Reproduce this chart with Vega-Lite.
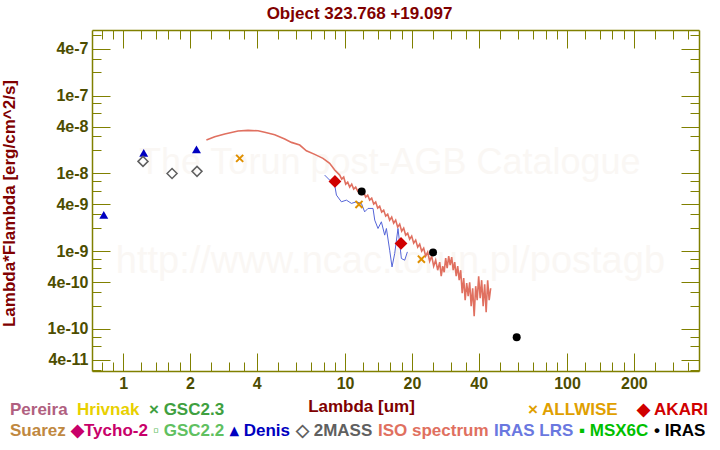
{
  "$schema": "https://vega.github.io/schema/vega-lite/v6.json",
  "width": 607,
  "height": 341,
  "autosize": {"type": "none"},
  "padding": {"left": 92, "top": 30, "right": 21, "bottom": 79},
  "background": "white",
  "title": {"text": "Object 323.768 +19.097", "anchor": "middle", "dx": -36, "offset": 4, "font": "Liberation Sans", "fontSize": 17, "fontWeight": "bold", "color": "#800000"},
  "config": {
    "font": "Liberation Sans",
    "view": {"stroke": null},
    "axis": {"domainColor": "#808000", "domainWidth": 1.5, "tickColor": "#808000", "tickWidth": 1, "labelColor": "#4d4d00", "labelFont": "Liberation Sans", "labelFontSize": 16, "labelFontWeight": "bold", "grid": false, "titleColor": "#800000", "titleFont": "Liberation Sans", "titleFontSize": 17, "titleFontWeight": "bold", "labelOverlap": false, "labelFlush": false},
    "legend": {"orient": "none", "direction": "horizontal", "title": null, "padding": 0, "symbolSize": 0, "symbolStrokeWidth": 0, "symbolOpacity": 0, "symbolType": "circle", "labelOffset": -17, "labelFont": "Liberation Sans", "labelFontSize": 17, "labelFontWeight": "bold", "labelLimit": 400, "gridAlign": "each"}
  },
  "resolve": {"axis": {"x": "independent", "y": "independent"}},
  "data": {"values": [
    {"catalog": "ISO spectrum", "wavelength": 2.372, "flux": 2.69e-8},
    {"catalog": "ISO spectrum", "wavelength": 2.586, "flux": 2.965e-8},
    {"catalog": "ISO spectrum", "wavelength": 2.87, "flux": 3.21e-8},
    {"catalog": "ISO spectrum", "wavelength": 3.293, "flux": 3.51e-8},
    {"catalog": "ISO spectrum", "wavelength": 3.653, "flux": 3.585e-8},
    {"catalog": "ISO spectrum", "wavelength": 4.052, "flux": 3.54e-8},
    {"catalog": "ISO spectrum", "wavelength": 4.343, "flux": 3.38e-8},
    {"catalog": "ISO spectrum", "wavelength": 4.818, "flux": 3.145e-8},
    {"catalog": "ISO spectrum", "wavelength": 5.345, "flux": 2.77e-8},
    {"catalog": "ISO spectrum", "wavelength": 5.731, "flux": 2.51e-8},
    {"catalog": "ISO spectrum", "wavelength": 6.246, "flux": 2.32e-8},
    {"catalog": "ISO spectrum", "wavelength": 6.693, "flux": 1.96e-8},
    {"catalog": "ISO spectrum", "wavelength": 7.298, "flux": 1.76e-8},
    {"catalog": "ISO spectrum", "wavelength": 7.95, "flux": 1.563e-8},
    {"catalog": "ISO spectrum", "wavelength": 8.52, "flux": 1.348e-8},
    {"catalog": "ISO spectrum", "wavelength": 8.98, "flux": 1.105e-8},
    {"catalog": "ISO spectrum", "wavelength": 9.456, "flux": 9.528e-9},
    {"catalog": "ISO spectrum", "wavelength": 9.654, "flux": 8.462e-9},
    {"catalog": "ISO spectrum", "wavelength": 9.856, "flux": 8.978e-9},
    {"catalog": "ISO spectrum", "wavelength": 10.062, "flux": 7.295e-9},
    {"catalog": "ISO spectrum", "wavelength": 10.273, "flux": 7.743e-9},
    {"catalog": "ISO spectrum", "wavelength": 10.489, "flux": 6.675e-9},
    {"catalog": "ISO spectrum", "wavelength": 10.709, "flux": 7.295e-9},
    {"catalog": "ISO spectrum", "wavelength": 10.933, "flux": 6.291e-9},
    {"catalog": "ISO spectrum", "wavelength": 11.162, "flux": 6.675e-9},
    {"catalog": "ISO spectrum", "wavelength": 11.396, "flux": 5.929e-9},
    {"catalog": "ISO spectrum", "wavelength": 11.635, "flux": 6.291e-9},
    {"catalog": "ISO spectrum", "wavelength": 11.878, "flux": 5.425e-9},
    {"catalog": "ISO spectrum", "wavelength": 12.127, "flux": 5.756e-9},
    {"catalog": "ISO spectrum", "wavelength": 12.381, "flux": 4.963e-9},
    {"catalog": "ISO spectrum", "wavelength": 12.641, "flux": 5.267e-9},
    {"catalog": "ISO spectrum", "wavelength": 12.905, "flux": 4.541e-9},
    {"catalog": "ISO spectrum", "wavelength": 13.176, "flux": 4.819e-9},
    {"catalog": "ISO spectrum", "wavelength": 13.452, "flux": 4.033e-9},
    {"catalog": "ISO spectrum", "wavelength": 13.734, "flux": 4.281e-9},
    {"catalog": "ISO spectrum", "wavelength": 14.022, "flux": 3.582e-9},
    {"catalog": "ISO spectrum", "wavelength": 14.316, "flux": 3.801e-9},
    {"catalog": "ISO spectrum", "wavelength": 14.616, "flux": 3.182e-9},
    {"catalog": "ISO spectrum", "wavelength": 14.922, "flux": 3.377e-9},
    {"catalog": "ISO spectrum", "wavelength": 15.235, "flux": 2.826e-9},
    {"catalog": "ISO spectrum", "wavelength": 15.555, "flux": 2.998e-9},
    {"catalog": "ISO spectrum", "wavelength": 15.88, "flux": 2.51e-9},
    {"catalog": "ISO spectrum", "wavelength": 16.213, "flux": 2.743e-9},
    {"catalog": "ISO spectrum", "wavelength": 16.553, "flux": 2.296e-9},
    {"catalog": "ISO spectrum", "wavelength": 16.9, "flux": 2.51e-9},
    {"catalog": "ISO spectrum", "wavelength": 17.254, "flux": 2.04e-9},
    {"catalog": "ISO spectrum", "wavelength": 17.616, "flux": 2.229e-9},
    {"catalog": "ISO spectrum", "wavelength": 17.985, "flux": 1.811e-9},
    {"catalog": "ISO spectrum", "wavelength": 18.362, "flux": 1.98e-9},
    {"catalog": "ISO spectrum", "wavelength": 18.747, "flux": 1.609e-9},
    {"catalog": "ISO spectrum", "wavelength": 19.14, "flux": 1.707e-9},
    {"catalog": "ISO spectrum", "wavelength": 19.541, "flux": 1.429e-9},
    {"catalog": "ISO spectrum", "wavelength": 19.953, "flux": 1.562e-9},
    {"catalog": "ISO spectrum", "wavelength": 20.371, "flux": 1.269e-9},
    {"catalog": "ISO spectrum", "wavelength": 20.798, "flux": 1.388e-9},
    {"catalog": "ISO spectrum", "wavelength": 21.234, "flux": 1.127e-9},
    {"catalog": "ISO spectrum", "wavelength": 21.679, "flux": 1.232e-9},
    {"catalog": "ISO spectrum", "wavelength": 22.133, "flux": 1.001e-9},
    {"catalog": "ISO spectrum", "wavelength": 22.596, "flux": 1.094e-9},
    {"catalog": "ISO spectrum", "wavelength": 23.07, "flux": 8.63e-10},
    {"catalog": "ISO spectrum", "wavelength": 23.554, "flux": 9.72e-10},
    {"catalog": "ISO spectrum", "wavelength": 24.047, "flux": 7.44e-10},
    {"catalog": "ISO spectrum", "wavelength": 24.551, "flux": 8.63e-10},
    {"catalog": "ISO spectrum", "wavelength": 25.066, "flux": 6.42e-10},
    {"catalog": "ISO spectrum", "wavelength": 25.591, "flux": 7.66e-10},
    {"catalog": "ISO spectrum", "wavelength": 26.127, "flux": 5.7e-10},
    {"catalog": "ISO spectrum", "wavelength": 26.68, "flux": 7.23e-10},
    {"catalog": "ISO spectrum", "wavelength": 27.1, "flux": 4.77e-10},
    {"catalog": "ISO spectrum", "wavelength": 27.52, "flux": 6.42e-10},
    {"catalog": "ISO spectrum", "wavelength": 27.95, "flux": 5.37e-10},
    {"catalog": "ISO spectrum", "wavelength": 28.39, "flux": 8.14e-10},
    {"catalog": "ISO spectrum", "wavelength": 28.83, "flux": 6.05e-10},
    {"catalog": "ISO spectrum", "wavelength": 29.29, "flux": 8.63e-10},
    {"catalog": "ISO spectrum", "wavelength": 29.74, "flux": 6.61e-10},
    {"catalog": "ISO spectrum", "wavelength": 30.21, "flux": 8.38e-10},
    {"catalog": "ISO spectrum", "wavelength": 30.69, "flux": 5.7e-10},
    {"catalog": "ISO spectrum", "wavelength": 31.17, "flux": 7.23e-10},
    {"catalog": "ISO spectrum", "wavelength": 31.66, "flux": 4.77e-10},
    {"catalog": "ISO spectrum", "wavelength": 32.16, "flux": 6.42e-10},
    {"catalog": "ISO spectrum", "wavelength": 32.66, "flux": 4.24e-10},
    {"catalog": "ISO spectrum", "wavelength": 33.17, "flux": 5.7e-10},
    {"catalog": "ISO spectrum", "wavelength": 33.69, "flux": 2.88e-10},
    {"catalog": "ISO spectrum", "wavelength": 34.22, "flux": 4.5e-10},
    {"catalog": "ISO spectrum", "wavelength": 34.75, "flux": 2.34e-10},
    {"catalog": "ISO spectrum", "wavelength": 35.3, "flux": 3.88e-10},
    {"catalog": "ISO spectrum", "wavelength": 35.85, "flux": 2.64e-10},
    {"catalog": "ISO spectrum", "wavelength": 36.41, "flux": 3.99e-10},
    {"catalog": "ISO spectrum", "wavelength": 36.98, "flux": 1.96e-10},
    {"catalog": "ISO spectrum", "wavelength": 37.56, "flux": 3.34e-10},
    {"catalog": "ISO spectrum", "wavelength": 38.15, "flux": 1.46e-10},
    {"catalog": "ISO spectrum", "wavelength": 38.75, "flux": 3.55e-10},
    {"catalog": "ISO spectrum", "wavelength": 39.36, "flux": 2.34e-10},
    {"catalog": "ISO spectrum", "wavelength": 39.97, "flux": 4.77e-10},
    {"catalog": "ISO spectrum", "wavelength": 40.6, "flux": 2.49e-10},
    {"catalog": "ISO spectrum", "wavelength": 41.23, "flux": 4.24e-10},
    {"catalog": "ISO spectrum", "wavelength": 41.88, "flux": 1.96e-10},
    {"catalog": "ISO spectrum", "wavelength": 42.54, "flux": 3.76e-10},
    {"catalog": "ISO spectrum", "wavelength": 43.2, "flux": 1.64e-10},
    {"catalog": "ISO spectrum", "wavelength": 43.88, "flux": 4.24e-10},
    {"catalog": "ISO spectrum", "wavelength": 44.57, "flux": 2.34e-10},
    {"catalog": "ISO spectrum", "wavelength": 45.27, "flux": 3.34e-10},
    {"catalog": "IRAS LRS", "wavelength": 8.09, "flux": 9.53e-9},
    {"catalog": "IRAS LRS", "wavelength": 8.52, "flux": 8.21e-9},
    {"catalog": "IRAS LRS", "wavelength": 8.98, "flux": 7.08e-9},
    {"catalog": "IRAS LRS", "wavelength": 9.14, "flux": 5.27e-9},
    {"catalog": "IRAS LRS", "wavelength": 9.62, "flux": 4.32e-9},
    {"catalog": "IRAS LRS", "wavelength": 10.14, "flux": 4.54e-9},
    {"catalog": "IRAS LRS", "wavelength": 10.68, "flux": 4.12e-9},
    {"catalog": "IRAS LRS", "wavelength": 11.24, "flux": 4.32e-9},
    {"catalog": "IRAS LRS", "wavelength": 11.84, "flux": 4.12e-9},
    {"catalog": "IRAS LRS", "wavelength": 12.25, "flux": 3.21e-9},
    {"catalog": "IRAS LRS", "wavelength": 12.68, "flux": 3.55e-9},
    {"catalog": "IRAS LRS", "wavelength": 13.36, "flux": 3.55e-9},
    {"catalog": "IRAS LRS", "wavelength": 13.6, "flux": 2.51e-9},
    {"catalog": "IRAS LRS", "wavelength": 14.07, "flux": 1.96e-9},
    {"catalog": "IRAS LRS", "wavelength": 14.57, "flux": 2.39e-9},
    {"catalog": "IRAS LRS", "wavelength": 15.08, "flux": 1.61e-9},
    {"catalog": "IRAS LRS", "wavelength": 15.35, "flux": 1.96e-9},
    {"catalog": "IRAS LRS", "wavelength": 15.88, "flux": 1.03e-9},
    {"catalog": "IRAS LRS", "wavelength": 16.27, "flux": 6.28e-10},
    {"catalog": "IRAS LRS", "wavelength": 16.73, "flux": 9.35e-10},
    {"catalog": "IRAS LRS", "wavelength": 17.31, "flux": 1.96e-9},
    {"catalog": "IRAS LRS", "wavelength": 17.93, "flux": 8.06e-10},
    {"catalog": "IRAS LRS", "wavelength": 18.56, "flux": 7.66e-10},
    {"catalog": "IRAS LRS", "wavelength": 19.08, "flux": 9.8e-10},
    {"catalog": "Denis", "wavelength": 0.818, "flux": 2.94e-9},
    {"catalog": "Denis", "wavelength": 1.238, "flux": 1.845e-8},
    {"catalog": "Denis", "wavelength": 2.14, "flux": 2.04e-8},
    {"catalog": "2MASS", "wavelength": 1.229, "flux": 1.43e-8},
    {"catalog": "2MASS", "wavelength": 1.661, "flux": 1.0e-8},
    {"catalog": "2MASS", "wavelength": 2.152, "flux": 1.064e-8},
    {"catalog": "ALLWISE", "wavelength": 3.35, "flux": 1.563e-8},
    {"catalog": "ALLWISE", "wavelength": 11.55, "flux": 4.0e-9},
    {"catalog": "ALLWISE", "wavelength": 22.07, "flux": 7.9e-10},
    {"catalog": "AKARI", "wavelength": 9.0, "flux": 7.9e-9},
    {"catalog": "AKARI", "wavelength": 17.86, "flux": 1.26e-9},
    {"catalog": "IRAS", "wavelength": 11.88, "flux": 5.88e-9},
    {"catalog": "IRAS", "wavelength": 24.9, "flux": 9.63e-10},
    {"catalog": "IRAS", "wavelength": 59.3, "flux": 7.82e-11}
  ]},
  "layer": [
    {
      "data": {"values": [{"text": "The Torun post-AGB Catalogue"}]},
      "mark": {"type": "text", "font": "Liberation Sans", "fontSize": 36, "color": "#faf7f4"},
      "encoding": {
        "x": {"datum": 15.9, "type": "quantitative", "scale": {"type": "log", "domain": [0.724, 393], "nice": false}, "axis": null},
        "y": {"datum": 1.36e-8, "type": "quantitative", "scale": {"type": "log", "domain": [2.88e-11, 7.0e-7], "nice": false}, "axis": null},
        "text": {"field": "text"}
      }
    },
    {
      "data": {"values": [{"text": "http://www.ncac.torun.pl/postagb"}]},
      "mark": {"type": "text", "font": "Liberation Sans", "fontSize": 38, "color": "#faf7f4"},
      "encoding": {
        "x": {"datum": 16, "type": "quantitative", "scale": {"type": "log", "domain": [0.724, 393], "nice": false}, "axis": null},
        "y": {"datum": 7.2e-10, "type": "quantitative", "scale": {"type": "log", "domain": [2.88e-11, 7.0e-7], "nice": false}, "axis": null},
        "text": {"field": "text"}
      }
    },
    {
      "transform": [{"filter": "datum.catalog == 'ISO spectrum'"}],
      "mark": {"type": "line", "strokeWidth": 1.6},
      "encoding": {
        "x": {"field": "wavelength", "type": "quantitative", "scale": {"type": "log", "domain": [0.724, 393], "nice": false},
          "axis": {"orient": "bottom", "values": [0.8,0.9,1,1.2,1.4,1.6,1.8,2,2.5,3,3.5,4,5,6,7,8,9,10,12,14,16,18,20,25,30,35,40,50,60,70,80,90,100,120,140,160,180,200,250,300,350],
            "labelExpr": "indexof([1,2,4,10,20,40,100,200], datum.value) >= 0 ? '' + datum.value : ''",
            "tickSize": {"condition": {"test": "indexof([1,2,4,10,20,40,100,200], datum.value) >= 0", "value": -18}, "value": -9},
            "labelPadding": 22, "title": "Lambda [um]", "titleX": 269, "titleY": 35, "titleBaseline": "middle", "titleAlign": "center"}},
        "y": {"field": "flux", "type": "quantitative", "scale": {"type": "log", "domain": [2.88e-11, 7.0e-7], "nice": false},
          "axis": {"orient": "left", "values": [3e-11,4e-11,6e-11,8e-11,1e-10,2e-10,3e-10,4e-10,6e-10,8e-10,1e-9,2e-9,3e-9,4e-9,6e-9,8e-9,1e-8,2e-8,3e-8,4e-8,6e-8,8e-8,1e-7,2e-7,3e-7,4e-7,6e-7],
            "labelExpr": "indexof(['1','4'], substring(format(datum.value, '.0e'), 0, 1)) >= 0 ? format(datum.value, '.0e') : ''",
            "tickSize": {"condition": {"test": "indexof(['1','4'], substring(format(datum.value, '.0e'), 0, 1)) >= 0", "value": -18}, "value": -9},
            "labelPadding": 22, "title": "Lambda*Flambda [erg/cm^2/s]", "titleX": -83, "titleY": 173, "titleAngle": 270, "titleBaseline": "middle", "titleAlign": "center"}},
        "color": {"field": "catalog", "type": "nominal",
          "scale": {"domain": ["Suarez","Tycho-2","GSC2.2","Denis","2MASS","ISO spectrum","IRAS LRS","MSX6C","IRAS"], "range": ["#c08840","#c8006a","#60c060","#0000c0","#606060","#e07060","#5565d8","#00c000","#000000"]},
          "legend": {"legendX": -82, "legendY": 392.5, "columnPadding": 5,
            "labelExpr": "['Suarez','◆Tycho-2','▫ GSC2.2','▴ Denis','◇ 2MASS','ISO spectrum','IRAS LRS','▪ MSX6C','• IRAS'][indexof(['Suarez','Tycho-2','GSC2.2','Denis','2MASS','ISO spectrum','IRAS LRS','MSX6C','IRAS'], datum.value)]",
            "labelColor": {"expr": "['#c08840','#c8006a','#60c060','#0000c0','#606060','#e07060','#6a78e0','#00c000','#000000'][indexof(['Suarez','Tycho-2','GSC2.2','Denis','2MASS','ISO spectrum','IRAS LRS','MSX6C','IRAS'], datum.value)]"}}}
      }
    },
    {
      "transform": [{"filter": "datum.catalog == 'IRAS LRS'"}],
      "mark": {"type": "line", "strokeWidth": 1},
      "encoding": {
        "x": {"field": "wavelength", "type": "quantitative", "scale": {"type": "log", "domain": [0.724, 393], "nice": false},
          "axis": {"orient": "top", "values": [0.8,0.9,1,1.2,1.4,1.6,1.8,2,2.5,3,3.5,4,5,6,7,8,9,10,12,14,16,18,20,25,30,35,40,50,60,70,80,90,100,120,140,160,180,200,250,300,350],
            "labels": false, "title": null,
            "tickSize": {"condition": {"test": "indexof([1,2,4,10,20,40,100,200], datum.value) >= 0", "value": -18}, "value": -9}}},
        "y": {"field": "flux", "type": "quantitative", "scale": {"type": "log", "domain": [2.88e-11, 7.0e-7], "nice": false},
          "axis": {"orient": "right", "values": [3e-11,4e-11,6e-11,8e-11,1e-10,2e-10,3e-10,4e-10,6e-10,8e-10,1e-9,2e-9,3e-9,4e-9,6e-9,8e-9,1e-8,2e-8,3e-8,4e-8,6e-8,8e-8,1e-7,2e-7,3e-7,4e-7,6e-7],
            "labels": false, "title": null,
            "tickSize": {"condition": {"test": "indexof(['1','4'], substring(format(datum.value, '.0e'), 0, 1)) >= 0", "value": -18}, "value": -9}}},
        "color": {"field": "catalog", "type": "nominal",
          "scale": {"domain": ["Suarez","Tycho-2","GSC2.2","Denis","2MASS","ISO spectrum","IRAS LRS","MSX6C","IRAS"], "range": ["#c08840","#c8006a","#60c060","#0000c0","#606060","#e07060","#5565d8","#00c000","#000000"]}}
      }
    },
    {
      "transform": [{"filter": "datum.catalog == 'GSC2.3'"}],
      "mark": {"type": "point", "filled": true},
      "encoding": {
        "x": {"field": "wavelength", "type": "quantitative", "scale": {"type": "log", "domain": [0.724, 393], "nice": false}, "axis": null},
        "y": {"field": "flux", "type": "quantitative", "scale": {"type": "log", "domain": [2.88e-11, 7.0e-7], "nice": false}, "axis": null},
        "fill": {"field": "catalog", "type": "nominal",
          "scale": {"domain": ["Pereira","Hrivnak","GSC2.3"], "range": ["#b06080","#e0d000","#40a040"]},
          "legend": {"legendX": -82, "legendY": 371.5, "columnPadding": 9,
            "labelExpr": "['Pereira','Hrivnak','× GSC2.3'][indexof(['Pereira','Hrivnak','GSC2.3'], datum.value)]",
            "labelColor": {"expr": "['#b06080','#e8d000','#40a040'][indexof(['Pereira','Hrivnak','GSC2.3'], datum.value)]"}}}
      }
    },
    {
      "transform": [{"filter": "datum.catalog == 'Denis'"}],
      "mark": {"type": "point", "shape": "triangle-up", "filled": true, "size": 80, "opacity": 1},
      "encoding": {
        "x": {"field": "wavelength", "type": "quantitative", "scale": {"type": "log", "domain": [0.724, 393], "nice": false}, "axis": null},
        "y": {"field": "flux", "type": "quantitative", "scale": {"type": "log", "domain": [2.88e-11, 7.0e-7], "nice": false}, "axis": null},
        "color": {"field": "catalog", "type": "nominal",
          "scale": {"domain": ["Suarez","Tycho-2","GSC2.2","Denis","2MASS","ISO spectrum","IRAS LRS","MSX6C","IRAS"], "range": ["#c08840","#c8006a","#60c060","#0000c0","#606060","#e07060","#5565d8","#00c000","#000000"]}}
      }
    },
    {
      "transform": [{"filter": "datum.catalog == '2MASS'"}],
      "mark": {"type": "point", "shape": "diamond", "filled": false, "size": 100, "strokeWidth": 1.5, "opacity": 1},
      "encoding": {
        "x": {"field": "wavelength", "type": "quantitative", "scale": {"type": "log", "domain": [0.724, 393], "nice": false}, "axis": null},
        "y": {"field": "flux", "type": "quantitative", "scale": {"type": "log", "domain": [2.88e-11, 7.0e-7], "nice": false}, "axis": null},
        "color": {"field": "catalog", "type": "nominal",
          "scale": {"domain": ["Suarez","Tycho-2","GSC2.2","Denis","2MASS","ISO spectrum","IRAS LRS","MSX6C","IRAS"], "range": ["#c08840","#c8006a","#60c060","#0000c0","#606060","#e07060","#5565d8","#00c000","#000000"]}}
      }
    },
    {
      "transform": [{"filter": "datum.catalog == 'ALLWISE'"}],
      "mark": {"type": "point", "shape": "M-1,-1L1,1M-1,1L1,-1", "filled": false, "size": 50, "strokeWidth": 2, "opacity": 1},
      "encoding": {
        "x": {"field": "wavelength", "type": "quantitative", "scale": {"type": "log", "domain": [0.724, 393], "nice": false}, "axis": null},
        "y": {"field": "flux", "type": "quantitative", "scale": {"type": "log", "domain": [2.88e-11, 7.0e-7], "nice": false}, "axis": null},
        "stroke": {"field": "catalog", "type": "nominal",
          "scale": {"domain": ["ALLWISE","AKARI"], "range": ["#e09000","#d00000"]},
          "legend": {"legendX": 436, "legendY": 371.5, "columnPadding": 18,
            "labelExpr": "['× ALLWISE','◆ AKARI'][indexof(['ALLWISE','AKARI'], datum.value)]",
            "labelColor": {"expr": "['#e0a000','#d00000'][indexof(['ALLWISE','AKARI'], datum.value)]"}}}
      }
    },
    {
      "transform": [{"filter": "datum.catalog == 'AKARI'"}],
      "mark": {"type": "point", "shape": "diamond", "filled": true, "fill": "#d00000", "size": 100, "opacity": 1},
      "encoding": {
        "x": {"field": "wavelength", "type": "quantitative", "scale": {"type": "log", "domain": [0.724, 393], "nice": false}, "axis": null},
        "y": {"field": "flux", "type": "quantitative", "scale": {"type": "log", "domain": [2.88e-11, 7.0e-7], "nice": false}, "axis": null},
        "stroke": {"field": "catalog", "type": "nominal",
          "scale": {"domain": ["ALLWISE","AKARI"], "range": ["#e09000","#d00000"]}}
      }
    },
    {
      "transform": [{"filter": "datum.catalog == 'IRAS'"}],
      "mark": {"type": "point", "shape": "circle", "filled": true, "size": 64, "opacity": 1},
      "encoding": {
        "x": {"field": "wavelength", "type": "quantitative", "scale": {"type": "log", "domain": [0.724, 393], "nice": false}, "axis": null},
        "y": {"field": "flux", "type": "quantitative", "scale": {"type": "log", "domain": [2.88e-11, 7.0e-7], "nice": false}, "axis": null},
        "color": {"field": "catalog", "type": "nominal",
          "scale": {"domain": ["Suarez","Tycho-2","GSC2.2","Denis","2MASS","ISO spectrum","IRAS LRS","MSX6C","IRAS"], "range": ["#c08840","#c8006a","#60c060","#0000c0","#606060","#e07060","#5565d8","#00c000","#000000"]}}
      }
    }
  ]
}
